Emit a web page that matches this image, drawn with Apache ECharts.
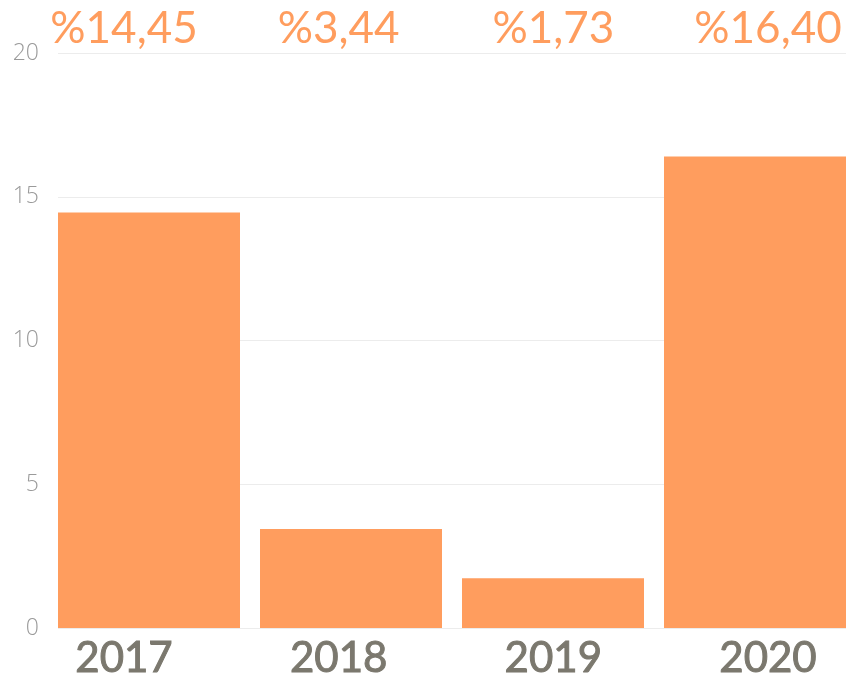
<!DOCTYPE html>
<html>
<head>
<meta charset="utf-8">
<script src="https://cdn.jsdelivr.net/npm/echarts@6/dist/echarts.min.js"></script>
<style>
  html, body { margin: 0; padding: 0; background: #fff; }
  #main { width: 849px; height: 680px; }
</style>
</head>
<body>
<div id="main"></div>
<script>
// data
var years = ['2017', '2018', '2019', '2020']
var rates = [14.45, 3.44, 1.73, 16.40]
var yTicks = [0, 5, 10, 15, 20]

var rateLabels = rates.map(function (v) {
  return '%' + v.toFixed(2).replace('.', ',')
})

var chart = echarts.init(document.getElementById('main'))
var orange = '#ff9d5e'

var option = {
  animation: false,
  grid: [
    // bars: category centres at the grid ends (boundaryGap false)
    { left: 149, right: 94, top: 53, bottom: 52 },
    // y axis + grid lines
    { left: 58, right: 3, top: 53, bottom: 52 },
    // labels top/bottom
    { left: 124, right: 81, top: 53, bottom: 52 }
  ],
  xAxis: [
    {
      gridIndex: 0,
      type: 'category',
      boundaryGap: false,
      data: years,
      axisLine: { show: false },
      axisTick: { show: false },
      axisLabel: { show: false },
      splitLine: { show: false }
    },
    {
      gridIndex: 1,
      type: 'category',
      data: years,
      show: false
    },
    {
      gridIndex: 2,
      type: 'category',
      boundaryGap: false,
      position: 'bottom',
      data: years,
      axisLine: { show: false },
      axisTick: { show: false },
      splitLine: { show: false },
      axisLabel: {
        margin: 11,
        color: '#7b786e',
        fontSize: 42,
        fontFamily: 'Lato',
        textBorderColor: '#7b786e',
        textBorderWidth: 1
      }
    },
    {
      gridIndex: 2,
      type: 'category',
      boundaryGap: false,
      position: 'top',
      data: rateLabels,
      axisLine: { show: false },
      axisTick: { show: false },
      splitLine: { show: false },
      axisLabel: {
        margin: 2,
        color: orange,
        fontSize: 44,
        fontFamily: 'Lato'
      }
    }
  ],
  yAxis: [
    {
      gridIndex: 0,
      type: 'value',
      min: yTicks[0],
      max: yTicks[yTicks.length - 1],
      interval: 5,
      show: false
    },
    {
      gridIndex: 1,
      type: 'value',
      min: yTicks[0],
      max: yTicks[yTicks.length - 1],
      interval: 5,
      axisLine: { show: false },
      axisTick: { show: false },
      axisLabel: {
        margin: 19,
        color: '#9a9a9a',
        fontSize: 23,
        fontWeight: 300,
        fontFamily: 'Open Sans'
      },
      splitLine: { lineStyle: { color: '#ececec', width: 1 } }
    },
    {
      gridIndex: 2,
      type: 'value',
      min: 0,
      max: 20,
      show: false
    }
  ],
  series: [
    {
      type: 'bar',
      xAxisIndex: 0,
      yAxisIndex: 0,
      data: rates,
      barWidth: 182,
      itemStyle: { color: orange },
      z: 3
    }
  ]
}
chart.setOption(option)
</script>
</body>
</html>
